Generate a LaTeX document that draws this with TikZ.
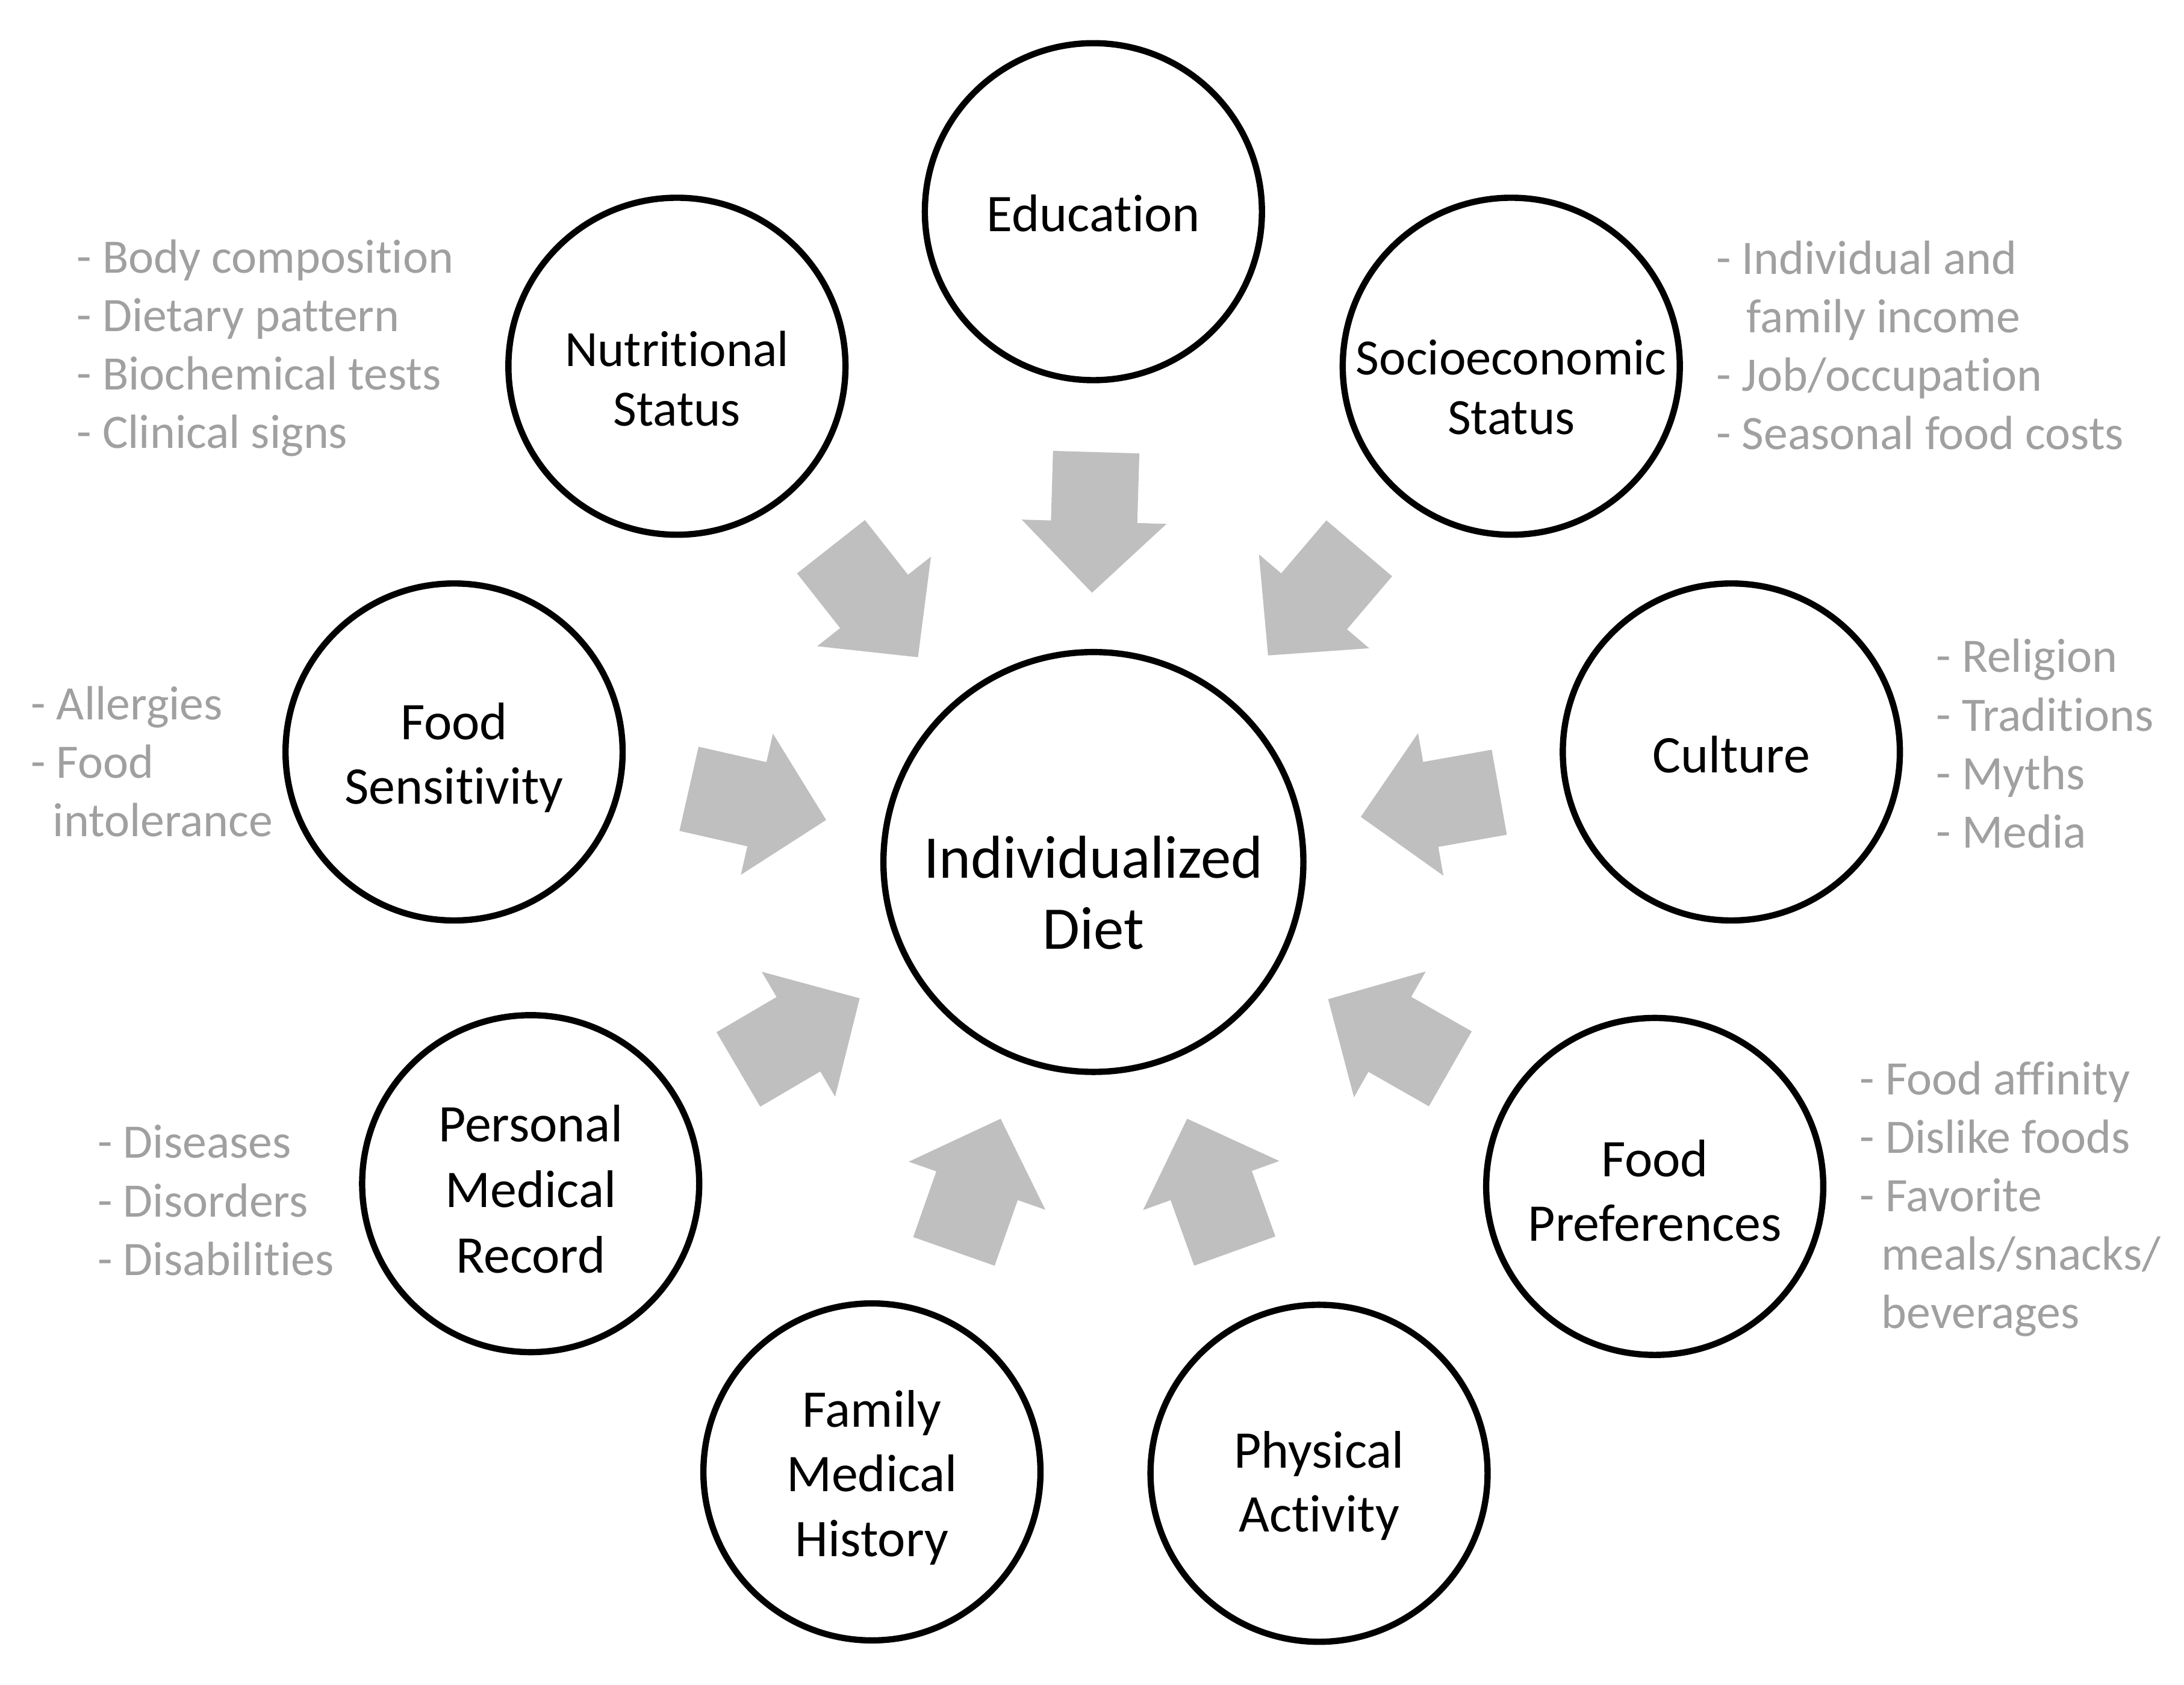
\documentclass[tikz,border=0pt]{standalone}
\usepackage{fontspec}
\setmainfont{Carlito}[Ligatures={NoCommon}]
\definecolor{notegray}{HTML}{A0A0A0}
\definecolor{arrowgray}{HTML}{BFBFBF}
\tikzset{
  circ/.style={circle, draw=black, line width=4.5pt, minimum size=242pt, inner sep=0pt},
  bigcirc/.style={circ, minimum size=301.5pt},
  lbl/.style={inner sep=0pt, align=center, font=\fontsize{38}{46}\selectfont},
  lbls/.style={lbl, font=\fontsize{36.5}{43}\selectfont},
  biglbl/.style={lbl, font=\fontsize{43.5}{51}\selectfont},
  note/.style={text=notegray, align=left, anchor=west, inner sep=0pt, font=\fontsize{34.5}{42}\selectfont},
  blockarrow/.pic={\fill[arrowgray] (0,-31) -- (50,-31) -- (50,-52) -- (101,0) -- (50,52) -- (50,31) -- (0,31) -- cycle;}
}
\begin{document}
\begin{tikzpicture}[x=1pt,y=1pt]
\useasboundingbox (0,0) rectangle (1568,-1210);
% circles
\node[bigcirc] (diet) at (785,-619) {};
\node[circ] (edu) at (785,-152) {};
\node[circ] (nut) at (486,-263) {};
\node[circ] (soc) at (1085,-263) {};
\node[circ] (sens) at (326,-540) {};
\node[circ] (cult) at (1243,-540) {};
\node[circ] (pmr) at (381,-850) {};
\node[circ] (pref) at (1188,-852) {};
\node[circ] (fam) at (626,-1057) {};
\node[circ] (phys) at (947,-1058) {};
% circle labels
\node[biglbl, yshift=-22pt] (tdiet) at (diet) {Individualized\\Diet};
\node[lbl, yshift=-1pt] (tedu) at (edu) {Education};
\node[lbls, yshift=-9pt] (tnut) at (nut) {Nutritional\\Status};
\node[lbls, yshift=-15pt] (tsoc) at (soc) {Socioeconomic\\Status};
\node[lbl, yshift=-4pt] (tsens) at (sens) {Food\\Sensitivity};
\node[lbl, yshift=-2pt] (tcult) at (cult) {Culture};
\node[lbl, yshift=-4pt, font=\fontsize{38}{47}\selectfont] (tpmr) at (pmr) {Personal\\Medical\\Record};
\node[lbl, yshift=-3pt] (tpref) at (pref) {Food\\Preferences};
\node[lbl, yshift=-4pt, font=\fontsize{38}{46.5}\selectfont] (tfam) at (fam) {Family\\Medical\\History};
\node[lbl, yshift=-9pt] (tphys) at (phys) {Physical\\Activity};
% arrows
\pic[rotate=-91.7] at (787,-324.7) {blockarrow};
\pic[rotate=-51.8] at (596.6,-392.6) {blockarrow};
\pic[rotate=-130.4] at (975.85,-393.75) {blockarrow};
\pic[rotate=-12.8] at (494.65,-566.45) {blockarrow};
\pic[rotate=-169.9] at (1076.4,-568.9) {blockarrow};
\pic[rotate=30.4] at (530.1,-768.0) {blockarrow};
\pic[rotate=150.3] at (1041.25,-767.55) {blockarrow};
\pic[rotate=70.6] at (684.85,-898.65) {blockarrow};
\pic[rotate=109.8] at (886.5,-898.4) {blockarrow};
% notes
\node[note] (nnut) at (55,-250) {- Body composition\\- Dietary pattern\\- Biochemical tests\\- Clinical signs};
\node[note] (nsoc) at (1232,-248) {- Individual and\\\hphantom{- }\hspace{0.1em}family income\\- Job/occupation\\- Seasonal food costs};
\node[note] (nsens) at (22,-547) {- Allergies\\- Food\\\hphantom{-}\hspace{0.15em}intolerance};
\node[note] (ncult) at (1390,-534) {- Religion\\- Traditions\\- Myths\\- Media};
\node[note] (npmr) at (70,-862) {- Diseases\\- Disorders\\- Disabilities};
\node[note] (npref) at (1335,-861) {- Food affinity\\- Dislike foods\\- Favorite\\\hphantom{-}\hspace{0.15em}meals/snacks/\\\hphantom{-}\hspace{0.15em}beverages};
\end{tikzpicture}
\end{document}
